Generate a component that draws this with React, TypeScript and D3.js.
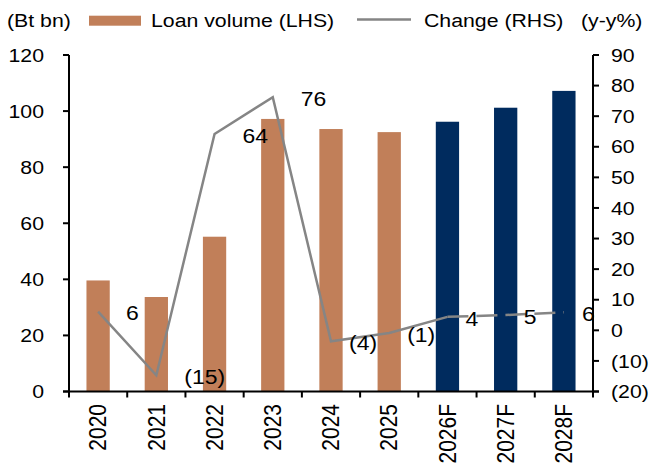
import React from 'react';
import * as d3 from 'd3';

const categories = ['2020', '2021', '2022', '2023', '2024', '2025', '2026F', '2027F', '2028F'];
const loanVolume = [39.6, 33.7, 55.2, 97.2, 93.6, 92.5, 96.2, 101.2, 107.2];
const yoyChange = [6.1, -14.7, 64.2, 76.2, -3.6, -0.9, 4.4, 5.0, 5.9];
const isForecast = [false, false, false, false, false, false, true, true, true];
const leftTicks = [0, 20, 40, 60, 80, 100, 120];
const rightTicks = [-20, -10, 0, 10, 20, 30, 40, 50, 60, 70, 80, 90];

const W = 651;
const H = 465;
const SX = 1.12;
const FONT = '"Liberation Sans", Arial, Helvetica, sans-serif';
const TAN = '#C17F59';
const NAVY = '#002B5E';
const GREY = '#858585';

const fmt = (v: number) => {
  const r = Math.round(Math.abs(v));
  return v < 0 ? `(${r})` : `${r}`;
};

function T({ x, y, anchor = 'start', size = 19, rot = 0, dy = '0.35em', children }: any) {
  return (
    <text
      transform={`translate(${x},${y}) scale(${SX},1)${rot ? ` rotate(${rot})` : ''}`}
      textAnchor={anchor}
      fontSize={size}
      dy={dy}
      fill="#000"
      fontFamily={FONT}
    >
      {children}
    </text>
  );
}

export default function App() {
  const left = 69;
  const right = 593;
  const top = 55;
  const bottom = 391.5;

  const x = d3.scaleBand<string>().domain(categories).range([left, right]).padding(0);
  const step = x.step();
  const bw = step * 0.4;
  const cx = (c: string) => (x(c) as number) + step / 2;
  const yL = d3.scaleLinear().domain([0, 120]).range([bottom, top]);
  const yR = d3.scaleLinear().domain([-20, 90]).range([bottom, top]);

  const pts: [number, number][] = categories.map((c, i) => [cx(c), yR(yoyChange[i])]);
  const lineGen = d3.line();
  const firstF = isForecast.indexOf(true);
  const solidPts = pts.slice(0, firstF + 1);
  const dashPts = pts.slice(firstF);

  const labelDx = (i: number) => (i < 4 ? 29 : 19);

  return (
    <svg width={W} height={H} style={{ position: 'absolute', left: 0, top: 0, background: '#fff' }}>
      <rect x={0} y={0} width={W} height={H} fill="#fff" />
      {/* legend */}
      <T x={7} y={20.5}>(Bt bn)</T>
      <rect x={89} y={15.7} width={52} height={10} fill={TAN} />
      <T x={151} y={20.5}>Loan volume (LHS)</T>
      <line x1={357} x2={411} y1={19.5} y2={19.5} stroke={GREY} strokeWidth={2.5} />
      <T x={424} y={20.5}>Change (RHS)</T>
      <T x={581} y={20.5}>(y-y%)</T>

      {/* bars */}
      {categories.map((c, i) => (
        <rect
          key={c}
          x={cx(c) - bw / 2}
          y={yL(loanVolume[i])}
          width={bw}
          height={bottom - yL(loanVolume[i])}
          fill={isForecast[i] ? NAVY : TAN}
        />
      ))}

      {/* line */}
      <path d={lineGen(solidPts) || ''} fill="none" stroke={GREY} strokeWidth={2.5} strokeLinejoin="miter" />
      <path d={lineGen(dashPts) || ''} fill="none" stroke={GREY} strokeWidth={2.5} strokeDasharray="21,8" />

      {/* data labels */}
      {categories.map((c, i) => (
        <T key={'l' + c} x={pts[i][0] + labelDx(i) - 1} y={pts[i][1] + 1.5} size={20.5}>
          {fmt(yoyChange[i])}
        </T>
      ))}

      {/* axes */}
      <g stroke="#000" strokeWidth={2}>
        <line x1={left} x2={left} y1={top} y2={bottom} />
        <line x1={right} x2={right} y1={top} y2={bottom} />
        <line x1={left - 6} x2={right + 6} y1={bottom} y2={bottom} />
        {leftTicks.map((t) => (
          <line key={'lt' + t} x1={left - 6} x2={left} y1={yL(t)} y2={yL(t)} />
        ))}
        {rightTicks.map((t) => (
          <line key={'rt' + t} x1={right} x2={right + 6} y1={yR(t)} y2={yR(t)} />
        ))}
        {[...categories.map((c) => x(c) as number), right].map((v, i) => (
          <line key={'xt' + i} x1={v} x2={v} y1={bottom} y2={bottom + 6} />
        ))}
      </g>

      {leftTicks.map((t) => (
        <T key={'ll' + t} x={44} y={yL(t)} anchor="end">
          {t}
        </T>
      ))}
      {rightTicks.map((t) => (
        <T key={'rl' + t} x={611} y={yR(t)}>
          {fmt(t)}
        </T>
      ))}
      {categories.map((c) => (
        <T key={'xl' + c} x={cx(c)} y={404} anchor="end" rot={-90} size={21}>
          {c}
        </T>
      ))}
    </svg>
  );
}
